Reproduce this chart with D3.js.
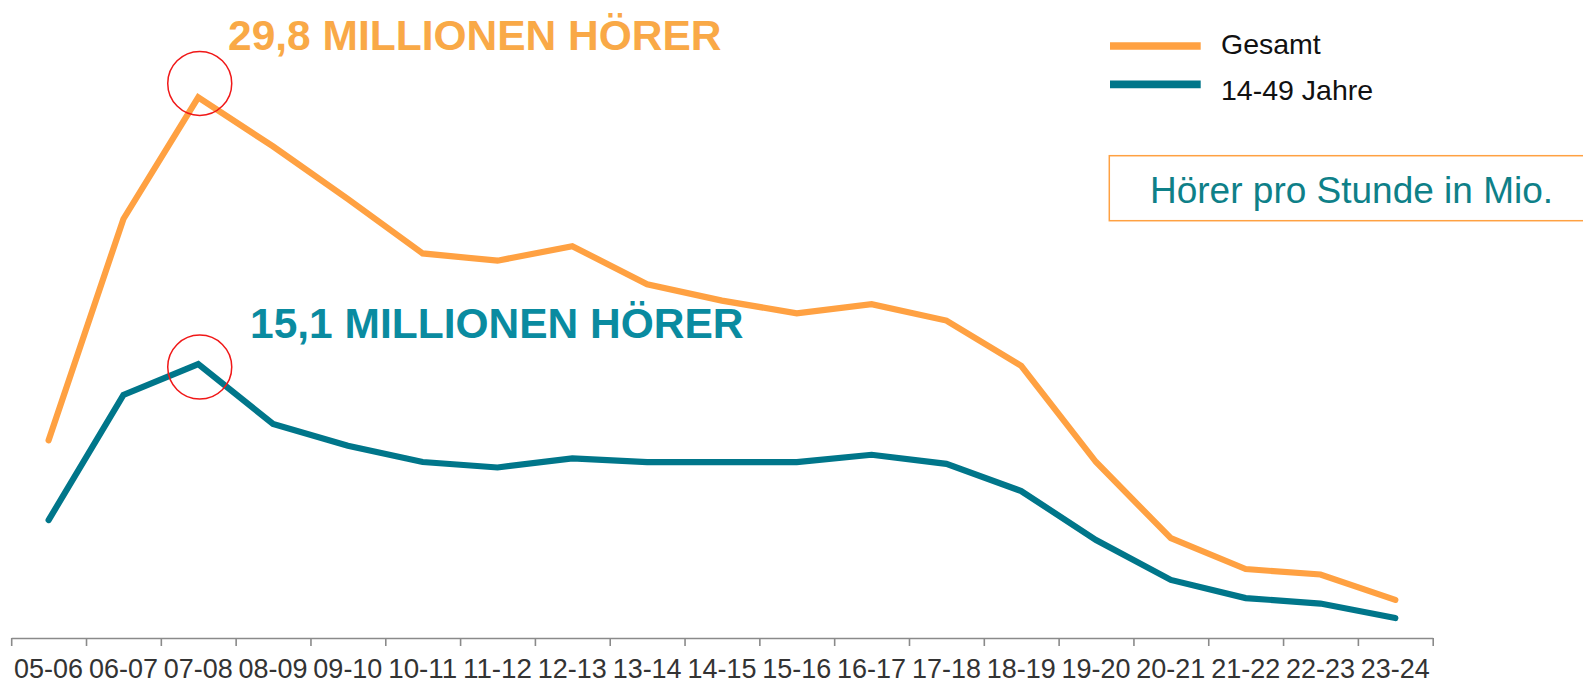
<!DOCTYPE html>
<html>
<head>
<meta charset="utf-8">
<script src="https://cdn.jsdelivr.net/npm/d3@7"></script>
<style>
  html, body { margin: 0; padding: 0; background: #fff; }
  svg { display: block; font-family: "Liberation Sans", Arial, sans-serif; }
</style>
</head>
<body>
<svg id="chart" width="1583" height="684"></svg>
<script>
const categories = ["05-06","06-07","07-08","08-09","09-10","10-11","11-12","12-13","13-14","14-15","15-16","16-17","17-18","18-19","19-20","20-21","21-22","22-23","23-24"];
const gesamt = [10.9, 23.1, 29.8, 27.1, 24.2, 21.2, 20.8, 21.6, 19.5, 18.6, 17.9, 18.4, 17.5, 15.0, 9.7, 5.5, 3.8, 3.5, 2.1];
const jahre1449 = [6.5, 13.4, 15.1, 11.8, 10.6, 9.7, 9.4, 9.9, 9.7, 9.7, 9.7, 10.1, 9.6, 8.1, 5.4, 3.2, 2.2, 1.9, 1.1];
const seriesNames = ["Gesamt", "14-49 Jahre"];
const peakLabels = ["29,8 MILLIONEN HÖRER", "15,1 MILLIONEN HÖRER"];
const boxLabel = "Hörer pro Stunde in Mio.";

const ORANGE = "#FFA142";
const TEAL = "#00768A";
const ORANGE_TXT = "#F9A947";
const TEAL_TXT = "#0A8BA0";
const BOX_TXT = "#0E8088";

const svg = d3.select("#chart");

const x = d3.scaleBand().domain(categories).range([11.2, 1432.7]).padding(0);
const xb = d3.scaleLinear().domain([0, categories.length]).range([11.2, 1432.7]);
const y = d3.scaleLinear().domain([0, 30]).range([638, 93.8]);
const cx = c => x(c) + x.bandwidth() / 2;

// axis line + boundary ticks
const axisG = svg.append("g").attr("transform", "translate(0,638)");
axisG.call(d3.axisBottom(xb).tickValues(d3.range(0, categories.length + 1)).tickSize(8).tickSizeOuter(0).tickFormat(""));
axisG.select(".domain").attr("stroke", "#8a8a8a").attr("stroke-width", 1.6);
axisG.selectAll(".tick line").attr("stroke", "#8a8a8a").attr("stroke-width", 1.6);

// category labels
const labG = svg.append("g").attr("transform", "translate(0,638)");
labG.call(d3.axisBottom(x).tickSize(0).tickPadding(0));
labG.select(".domain").remove();
labG.selectAll(".tick text")
  .attr("dy", null)
  .attr("y", 40)
  .attr("fill", "#333")
  .attr("textLength", 69)
  .attr("lengthAdjust", "spacingAndGlyphs")
  .style("font-family", "'Liberation Sans', Arial, sans-serif")
  .style("font-size", "27.5px");

// lines
const line = d3.line().x((d, i) => cx(categories[i])).y(d => y(d));
[[gesamt, ORANGE], [jahre1449, TEAL]].forEach(([data, col]) => {
  svg.append("path")
    .datum(data)
    .attr("d", line)
    .attr("fill", "none")
    .attr("stroke", col)
    .attr("stroke-width", 6.2)
    .attr("stroke-linecap", "round")
    .attr("stroke-linejoin", "miter");
});

// peak circles
const peakIdx = 2;
[[gesamt, -14], [jahre1449, 3]].forEach(([data, off]) => {
  svg.append("circle")
    .attr("cx", cx(categories[peakIdx]) + 1.5)
    .attr("cy", y(data[peakIdx]) + off)
    .attr("r", 32)
    .attr("fill", "none")
    .attr("stroke", "#F01818")
    .attr("stroke-width", 1.5);
});

// peak labels
svg.append("text").attr("x", 228).attr("y", 50)
  .attr("fill", ORANGE_TXT).style("font-weight", "bold").style("font-size", "42.5px")
  .text(peakLabels[0]);
svg.append("text").attr("x", 250).attr("y", 337.5)
  .attr("fill", TEAL_TXT).style("font-weight", "bold").style("font-size", "42.5px")
  .text(peakLabels[1]);

// legend
const legend = [[seriesNames[0], ORANGE, 46, 54.3], [seriesNames[1], TEAL, 84.3, 100]];
legend.forEach(([name, col, ly, ty]) => {
  svg.append("line").attr("x1", 1110).attr("x2", 1200.7).attr("y1", ly).attr("y2", ly)
    .attr("stroke", col).attr("stroke-width", 7.7);
  svg.append("text").attr("x", 1221).attr("y", ty)
    .attr("fill", "#111").style("font-size", "28.5px").text(name);
});

// box
svg.append("rect").attr("x", 1109.3).attr("y", 155.7).attr("width", 520).attr("height", 65)
  .attr("fill", "none").attr("stroke", ORANGE).attr("stroke-width", 1.5);
svg.append("text").attr("x", 1150).attr("y", 203.3)
  .attr("fill", BOX_TXT).style("font-size", "37px").text(boxLabel);
</script>
</body>
</html>
